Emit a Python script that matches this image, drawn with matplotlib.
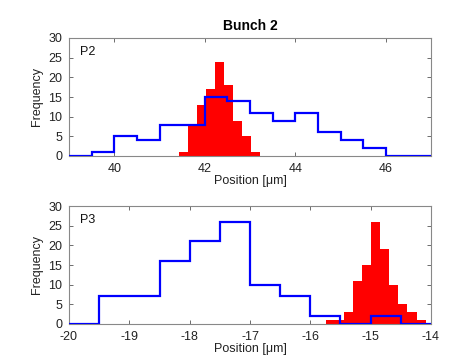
import numpy as np
import matplotlib
matplotlib.use("Agg")
import matplotlib.pyplot as plt

plt.rcParams['font.family'] = ['Liberation Sans', 'DejaVu Sans']
plt.rcParams['axes.unicode_minus'] = False

# P2 (top panel)
p2_blue_edges = [39.0, 39.5, 40.0, 40.5, 41.0, 41.5, 42.0, 42.5, 43.0, 43.5, 44.0, 44.5, 45.0, 45.5, 46.0, 46.5, 47.0]
p2_blue_counts = [0, 1, 5, 4, 8, 8, 15, 14, 11, 9, 11, 6, 4, 2, 0, 0]
p2_red_edges = [41.43, 41.63, 41.83, 42.03, 42.23, 42.43, 42.63, 42.83, 43.03, 43.23]
p2_red_counts = [1, 8, 13, 17, 24, 18, 9, 5, 1]

# P3 (bottom panel)
p3_blue_edges = [-20.0, -19.5, -19.0, -18.5, -18.0, -17.5, -17.0, -16.5, -16.0, -15.5, -15.0, -14.5, -14.0]
p3_blue_counts = [0, 7, 7, 16, 21, 26, 10, 7, 2, 0, 2, 0]
p3_red_edges = [-15.74, -15.59, -15.44, -15.29, -15.14, -14.99, -14.84, -14.69, -14.54, -14.39, -14.24, -14.09]
p3_red_counts = [1, 1, 3, 11, 15, 26, 19, 10, 5, 3, 1]

p2_xticks = [40, 42, 44, 46]
p3_xticks = [-20, -19, -18, -17, -16, -15, -14]
yticks = [0, 5, 10, 15, 20, 25, 30]

W, H = 461, 359
fig = plt.figure(figsize=(W / 100, H / 100), dpi=100)

def px_axes(left, top, right, bottom):
    return fig.add_axes([left / W, 1 - bottom / H, (right - left) / W, (bottom - top) / H])

ax1 = px_axes(69, 38, 431, 156)
ax2 = px_axes(69, 206, 431, 324)

def draw(ax, red_edges, red_counts, blue_edges, blue_counts, xlim, xticks, label):
    re = np.asarray(red_edges)
    ax.bar(re[:-1], red_counts, width=np.diff(re), align='edge', color='#ff0000',
           edgecolor='none', linewidth=0, zorder=2)
    ax.stairs(blue_counts, blue_edges, color='#0000ff', linewidth=1.6, zorder=3)
    ax.set_xlim(*xlim)
    ax.set_ylim(0, 30)
    ax.set_xticks(xticks)
    ax.set_yticks(yticks)
    ax.tick_params(direction='in', top=True, right=True, labelsize=9,
                   length=3, width=0.6, color='#555555', pad=5, labelcolor='#222222')
    for s in ax.spines.values():
        s.set_color('#888888')
        s.set_linewidth(0.8)
    ax.set_ylabel('Frequency', fontsize=9, color='#222222', labelpad=4)
    ax.set_xlabel('Position [μm]', fontsize=9, color='#222222', labelpad=0)
    ax.text(0.03, 0.88, label, transform=ax.transAxes, fontsize=9, color='#111111',
            ha='left', va='center')

draw(ax1, p2_red_edges, p2_red_counts, p2_blue_edges, p2_blue_counts, (39, 47), p2_xticks, 'P2')
draw(ax2, p3_red_edges, p3_red_counts, p3_blue_edges, p3_blue_counts, (-20, -14), p3_xticks, 'P3')

ax1.set_title('Bunch 2', fontsize=10, fontweight='bold', pad=6)

fig.savefig('out.png', dpi=100)
